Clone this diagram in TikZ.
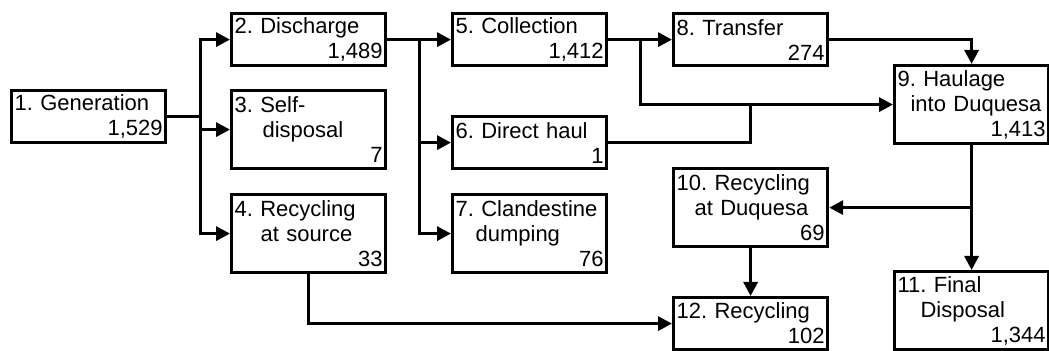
\documentclass[tikz,border=0pt]{standalone}
\usepackage{fontspec}
\setmainfont{Liberation Sans}
\usetikzlibrary{arrows.meta,positioning}
\tikzset{>={Triangle[length=7pt,width=7pt]}}
\tikzset{
  stage/.style={draw, line width=1.6pt, anchor=north west,
    inner xsep=1.5pt, inner ysep=0pt, text width=74pt,
    minimum width=77pt, minimum height=26pt, align=left,
    font=\fontsize{11}{12.5}\selectfont\frenchspacing},
  tall/.style={minimum height=39pt},
  flow/.style={line width=1.6pt}
}
% amount flushed to the right on its own line
\newcommand{\amount}[1]{\\\hbox to\hsize{\hfil#1}}

\begin{document}
\begin{tikzpicture}[x=0.5pt, y=-0.5pt]
          \useasboundingbox (0,0) rectangle (1049,351);
          \node[stage] (gen) at (10,89) {1. Generation\amount{1,529}};
          \node[stage] (dis) at (230,12) {2. Discharge\amount{1,489}};
          \node[stage,tall] (slf) at (230,89) {3. Self-\\\hspace*{14pt}disposal\amount{7}};
          \node[stage,tall] (src) at (230,193) {4. Recycling\\\hspace*{13pt}at source\amount{33}};
          \node[stage] (col) at (451,12) {5. Collection\amount{1,412}};
          \node[stage] (dir) at (451,115) {6. Direct haul\amount{1}};
          \node[stage,tall] (cln) at (451,193) {7. Clandestine\\\hspace*{10pt}dumping\amount{76}};
          \node[stage] (trn) at (672,12) {8. Transfer\amount{274}};
          \node[stage,tall] (hau) at (893,64) {9. Haulage\\\hspace*{6.5pt}into Duquesa\amount{1,413}};
          \node[stage,tall] (rcd) at (672,167) {10. Recycling\\\hspace*{9pt}at Duquesa\amount{69}};
          \node[stage,tall] (fin) at (893,270) {11. Final\\\hspace*{11.5pt}Disposal\amount{1,344}};
          \node[stage] (rec) at (672,296) {12. Recycling\amount{102}};

          % generation splits three ways
          \draw[flow,->] (gen.east) -- ++(33,0) |- (dis.west);
          \draw[flow,->] (gen.east) -- ++(33,0) |- (slf.west);
          \draw[flow,->] (gen.east) -- ++(33,0) |- (src.west);
          % discharge
          \draw[flow,->] (dis.east) -- ++(32,0) |- (col.west);
          \draw[flow,->] (dis.east) -- ++(32,0) |- (dir.west);
          \draw[flow,->] (dis.east) -- ++(32,0) |- (cln.west);
          % towards Duquesa
          \draw[flow,->] (col.east) -- (trn.west);
          \draw[flow,->] (col.east) -- ++(32,0) |- (hau.west);
          \draw[flow] (dir.east) -| (rcd.north |- hau.west);
          \draw[flow,->] (trn.east) -| (hau.north);
          \draw[flow,->] (hau.south) -- (fin.north);
          \draw[flow,->] (hau.south |- rcd.east) -- (rcd.east);
          \draw[flow,->] (rcd.south) -- (rec.north);
          \draw[flow,->] (src.south) |- (rec.west);
        \end{tikzpicture}
\end{document}
